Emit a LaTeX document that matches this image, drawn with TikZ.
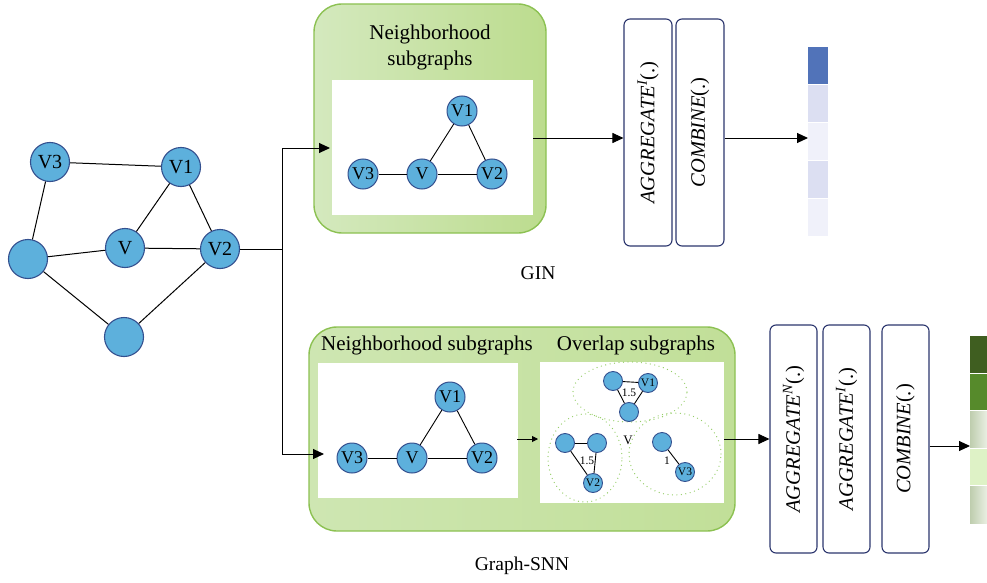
\documentclass[tikz,border=0pt]{standalone}
\usepackage{fontspec}
\setmainfont{Liberation Serif}
\usetikzlibrary{arrows.meta,shapes.geometric}

\definecolor{nodeblue}{HTML}{5DB0DC}
\definecolor{nodeedge}{HTML}{34508F}
\definecolor{boxedge}{HTML}{8CC152}
\definecolor{boxleft}{HTML}{D4E9BE}
\definecolor{boxright}{HTML}{BCDC8E}
\definecolor{box2left}{HTML}{CEE6B2}
\definecolor{box2right}{HTML}{C1DF98}
\definecolor{navy}{HTML}{2C366E}
\definecolor{dotgreen}{HTML}{94CE66}
\definecolor{blueA}{HTML}{5173B9}
\definecolor{blueB}{HTML}{DCDFF2}
\definecolor{blueC}{HTML}{F0F1FA}
\definecolor{greenA}{HTML}{3F5E20}
\definecolor{greenB}{HTML}{568A2B}
\definecolor{greenC}{HTML}{DEF2C6}
\definecolor{fadeL}{HTML}{BECDAE}
\definecolor{fadeR}{HTML}{F1F5EC}

\newcommand{\fs}[1]{\fontsize{#1}{#1}\selectfont}

\tikzset{
  bignode/.style={circle,fill=nodeblue,draw=nodeedge,line width=1.1pt,minimum size=39pt,inner sep=0pt,font=\fs{20}},
  midnode/.style={circle,fill=nodeblue,draw=nodeedge,line width=1pt,minimum size=30pt,inner sep=0pt,font=\fs{18}},
  tinynode/.style={circle,fill=nodeblue,draw=nodeedge,line width=0.9pt,minimum size=19pt,inner sep=0pt,font=\fs{11.5}},
  edge/.style={line width=1pt,black},
  thinedge/.style={line width=0.9pt,black},
  arr/.style={line width=1pt,-{Triangle[length=11pt,width=10pt]}},
  smallarr/.style={line width=0.9pt,-{Triangle[length=6pt,width=6pt]}},
  greenbox/.style={draw=boxedge,line width=1.4pt,rounded corners=28pt,inner sep=0pt},
  panel/.style={fill=white,inner sep=0pt},
  opbox/.style={draw=navy,line width=1.1pt,rounded corners=6pt,fill=white,inner sep=0pt},
  optext/.style={rotate=90,font=\fs{20.5}},
  title/.style={font=\fs{21},align=center},
  overlap/.style={draw=dotgreen,line width=1.3pt,dash pattern=on 0pt off 4.5pt,line cap=round},
  cell/.style={draw=white,line width=0.8pt}
}

\begin{document}
\begin{tikzpicture}[x=1pt,y=-1pt]
\useasboundingbox[fill=white] (0,0) rectangle (987,583);

% ---------- input graph ----------
\node[bignode] (gV3) at (50,162) {V3};
\node[bignode] (gV1) at (181,167) {V1};
\node[bignode] (gL)  at (28,259) {};
\node[bignode] (gV)  at (125,248) {V};
\node[bignode] (gV2) at (220,249) {V2};
\node[bignode] (gB)  at (124,337) {};
\draw[edge] (gV3) -- (gV1);
\draw[edge] (gV3) -- (gL);
\draw[edge] (gL) -- (gV);
\draw[edge] (gL) -- (gB);
\draw[edge] (gV) -- (gV1);
\draw[edge] (gV) -- (gV2);
\draw[edge] (gV1) -- (gV2);
\draw[edge] (gV2) -- (gB);

% ---------- GIN branch ----------
\node[greenbox,left color=boxleft,right color=boxright,minimum width=232pt,minimum height=229pt] (gin) at (430,118.5) {};
\node[title] (ginT) at (430,47) {Neighborhood\\[5pt]subgraphs};
\node[panel,minimum width=201pt,minimum height=135pt] (ginP) at (432.5,147.5) {};
\node[midnode] (aV1) at (462,111) {V1};
\node[midnode] (aV3) at (363,174) {V3};
\node[midnode] (aV)  at (422,174) {V};
\node[midnode] (aV2) at (492,174) {V2};
\draw[thinedge] (aV3) -- (aV);
\draw[thinedge] (aV) -- (aV2);
\draw[thinedge] (aV) -- (aV1);
\draw[thinedge] (aV1) -- (aV2);

\node[opbox,minimum width=48pt,minimum height=227pt] (aggI) at (648,132.5) {};
\node[optext] (aggIt) at (aggI.center) {\textit{AGGREGATE}\textsuperscript{\textit{I}}(.)};
\node[opbox,minimum width=48pt,minimum height=227pt] (combA) at (700,132.5) {};
\node[optext] (combAt) at (combA.center) {\textit{COMBINE}(.)};

% output embedding (GIN)
\foreach \c [count=\i from 0] in {blueA,blueB,blueC,blueB,blueC}
  \fill[\c] (808,47+37.8*\i) rectangle (828,47+37.8*\i+37.8);
\foreach \i in {1,...,4}
  \draw[cell] (808,47+37.8*\i) -- (828,47+37.8*\i);
\coordinate (barA) at (808,138);

\node[font=\fs{19.5}] (ginLab) at (538,273) {GIN};

% ---------- Graph-SNN branch ----------
\node[greenbox,left color=box2left,right color=box2right,minimum width=426pt,minimum height=204pt] (snn) at (522,429) {};
\node[title] (snnT1) at (427,345) {Neighborhood subgraphs};
\node[title] (snnT2) at (636,345) {Overlap subgraphs};
\node[panel,minimum width=200pt,minimum height=135pt] (snnP) at (418,430.5) {};
\node[panel,minimum width=184pt,minimum height=141pt] (ovP) at (632,432.5) {};

\node[midnode] (bV1) at (450,397) {V1};
\node[midnode] (bV3) at (352,458) {V3};
\node[midnode] (bV)  at (412,458) {V};
\node[midnode] (bV2) at (482,458) {V2};
\draw[thinedge] (bV3) -- (bV);
\draw[thinedge] (bV) -- (bV2);
\draw[thinedge] (bV) -- (bV1);
\draw[thinedge] (bV1) -- (bV2);

% overlap subgraphs
\draw[overlap] (630,392) ellipse [x radius=57pt,y radius=30pt];
\draw[overlap] (585,458) ellipse [x radius=37pt,y radius=44pt];
\draw[overlap] (675,454) ellipse [x radius=46pt,y radius=41pt];

\node[tinynode] (o1a) at (613,381) {};
\node[tinynode] (o1b) at (648,383) {V1};
\node[tinynode] (o1c) at (629,412) {};
\draw[thinedge] (o1a) -- (o1b);
\draw[thinedge] (o1a) -- (o1c);
\draw[thinedge] (o1b) -- (o1c);
\node[font=\fs{11.5}] (w1) at (629,393) {1.5};

\node[tinynode] (o2a) at (565,443) {};
\node[tinynode] (o2b) at (597,443) {};
\node[tinynode] (o2c) at (593,483) {V2};
\draw[thinedge] (o2a) -- (o2b);
\draw[thinedge] (o2a) -- (o2c);
\draw[thinedge] (o2b) -- (o2c);
\node[font=\fs{11.5}] (w2) at (587,461) {1.5};

\node[tinynode] (o3a) at (662,442) {};
\node[tinynode] (o3b) at (685,472) {V3};
\draw[thinedge] (o3a) -- (o3b);
\node[font=\fs{11.5}] (w3) at (667,461) {1};

\node[font=\fs{13}] (ovV) at (628,440) {V};

\coordinate (s0) at (517,439);
\coordinate (s1) at (538,439);
\draw[smallarr] (s0) -- (s1);

\node[opbox,minimum width=47pt,minimum height=228pt] (aggN) at (793.5,439) {};
\node[optext] (aggNt) at (aggN.center) {\textit{AGGREGATE}\textsuperscript{\textit{N}}(.)};
\node[opbox,minimum width=47pt,minimum height=228pt] (aggI2) at (846.5,439) {};
\node[optext] (aggI2t) at (aggI2.center) {\textit{AGGREGATE}\textsuperscript{\textit{I}}(.)};
\node[opbox,minimum width=47pt,minimum height=228pt] (combB) at (905.5,439) {};
\node[optext] (combBt) at (combB.center) {\textit{COMBINE}(.)};

% output embedding (Graph-SNN)
\fill[greenA] (970,336) rectangle (990,373.4);
\fill[greenB] (970,373.4) rectangle (990,410.8);
\shade[left color=fadeL,right color=fadeR] (970,410.8) rectangle (990,448.2);
\fill[greenC] (970,448.2) rectangle (990,485.6);
\shade[left color=fadeL,right color=fadeR] (970,485.6) rectangle (990,523);
\foreach \y in {373.4,410.8,448.2,485.6}
  \draw[cell] (970,\y) -- (990,\y);
\coordinate (barB) at (970,446);

\node[font=\fs{19.5}] (snnLab) at (522,566) {Graph-SNN};

% ---------- connectors ----------
\coordinate (j) at (282,249);
\coordinate (ginIn) at (330,148);
\coordinate (snnIn) at (324,454);
\draw[line width=1pt] (gV2) -- (j);
\draw[arr] (j) |- (ginIn);
\draw[arr] (j) |- (snnIn);

\coordinate (a1) at (533,138);
\draw[arr] (a1) -- (aggI.west |- a1);
\draw[arr] (combA.east |- barA) -- (barA);

\coordinate (a2) at (724,439);
\draw[arr] (a2) -- (aggN.west |- a2);
\draw[arr] (combB.east |- barB) -- (barB);
\end{tikzpicture}
\end{document}
